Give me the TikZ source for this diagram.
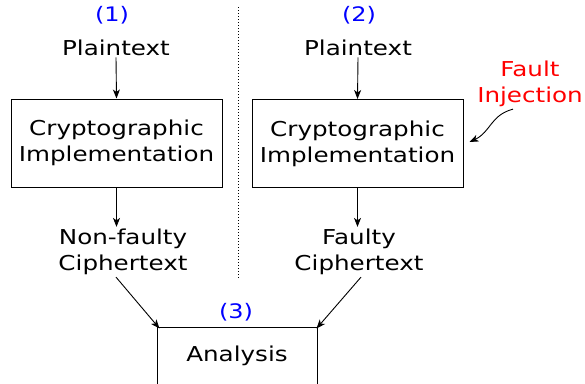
\documentclass[tikz,border=0pt]{standalone}
\usepackage{fontspec}
\setmainfont{DejaVu Sans}[FakeStretch=1.2]
\usetikzlibrary{arrows.meta}

\begin{document}
\begin{tikzpicture}[x=1pt, y=-1pt, >={Stealth[length=9pt, width=7pt, inset=2.5pt]},
      blk/.style={draw, line width=1pt, minimum width=211pt, minimum height=88pt,
                  align=center, font=\fontsize{20.5}{26}\selectfont},
      txt/.style={align=center, font=\fontsize{20.5}{26}\selectfont, inner sep=2pt},
      num/.style={text=blue, font=\fontsize{20}{24}\selectfont},
      arr/.style={->, line width=0.9pt}]

    \useasboundingbox (0,0) rectangle (585,383);

    % ============================
    % LEFT: normal run
    % ============================
    \node[num] (n1) at (112, 15) {(1)};
    \node[txt, anchor=base] (pt1) at (116, 55) {Plaintext};
    \node[blk] (impl1) at (116.5, 143) {Cryptographic\\Implementation};
    \node[txt] (nf) at (123, 252) {Non-faulty\\Ciphertext};

    \draw[arr] (pt1.south) -- (impl1.north);
    \draw[arr] (impl1.south) -- (impl1.south |- nf.north);

    % separator between the two runs
    \coordinate (sept) at (238, 7);
    \coordinate (sepb) at (238, 279);
    \draw[dotted, line width=1pt] (sept) -- (sepb);

    % ============================
    % RIGHT: faulty run
    % ============================
    \node[num] (n2) at (359, 15) {(2)};
    \node[txt, anchor=base] (pt2) at (358, 55) {Plaintext};
    \node[blk] (impl2) at (357.5, 143.5) {Cryptographic\\Implementation};
    \node[txt] (fy) at (359, 252) {Faulty\\Ciphertext};

    \draw[arr] (pt2.south) -- (impl2.north);
    \draw[arr] (impl2.south) -- (impl2.south |- fy.north);

    % fault source
    \node[txt, text=red] (fault) at (530, 84) {Fault\\Injection};
    \draw[arr] ([xshift=-17pt]fault.south) to[out=195, in=25, looseness=1.1] ([xshift=6pt, yshift=1.5pt]impl2.east);

    % ============================
    % BOTTOM: analysis of both outputs
    % ============================
    \node[num] (n3) at (236, 312) {(3)};
    \node[blk, minimum width=160pt, minimum height=58pt] (ana) at (237, 356) {Analysis};

    \draw[arr] ([xshift=-7pt]nf.south) -- ([xshift=3pt, yshift=-2pt]ana.north west);
    \draw[arr] ([xshift=2pt]fy.south) -- ([xshift=-1pt, yshift=-2pt]ana.north east);

\end{tikzpicture}
\end{document}
